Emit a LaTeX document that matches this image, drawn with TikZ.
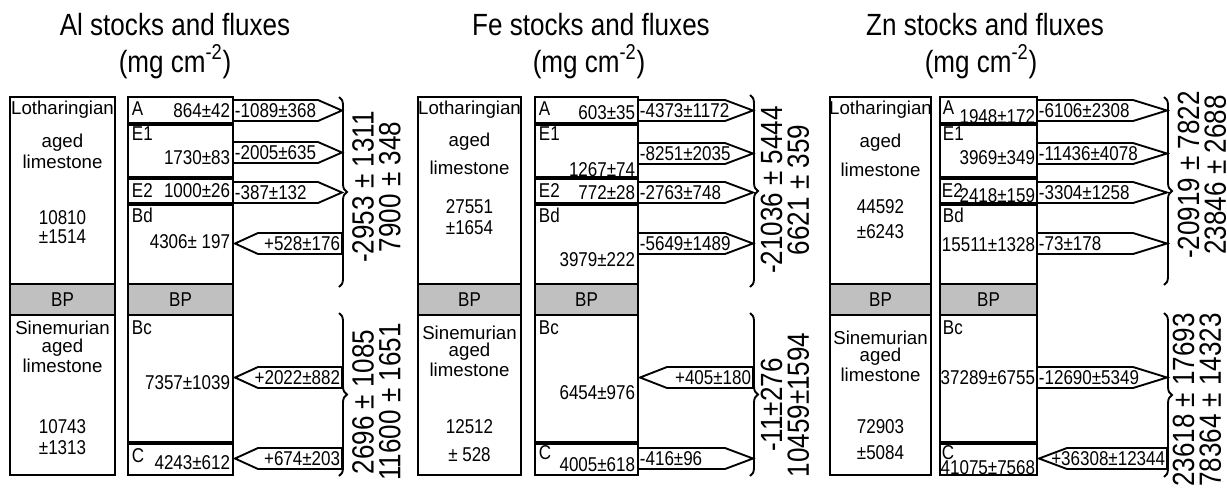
\documentclass[tikz,border=0pt]{standalone}
\usepackage{fontspec}
\setmainfont{Liberation Sans}
\newfontfamily\slimfont{Liberation Sans}[FakeStretch=0.85]
\usetikzlibrary{decorations.pathreplacing}
\definecolor{bpgray}{RGB}{192,192,192}

\begin{document}
\begin{tikzpicture}[x=0.75pt, y=-0.75pt, line width=1.4pt,
  ttl/.style={font=\slimfont\fontsize{23}{23}\selectfont, anchor=base},
  tot/.style={font=\slimfont\fontsize{23}{20}\selectfont, rotate=90, align=center},
  rock/.style={font=\fontsize{14}{14}\selectfont, inner sep=0pt},
  num/.style={font=\slimfont\fontsize{15}{15}\selectfont, inner sep=0pt},
  val/.style={num, anchor=east},
  lyr/.style={num, anchor=west},
  fluxo/.style={num, anchor=west},
  fluxi/.style={num, anchor=east},
  bp/.style={draw, fill=bpgray},
  brc/.style={decorate, decoration={brace, amplitude=6pt}}]
  \useasboundingbox (0,0) rectangle (1227,501);

  % Al stocks and fluxes
  \node[ttl] (alT) at (175,35) {Al stocks and fluxes};
  \node[ttl] (alU) at (175,72) {(mg cm\textsuperscript{-2})};
  \draw (10,97) rectangle (115,284);
  \draw[bp] (10,284) rectangle (115,315);
  \draw (10,315) rectangle (115,475);
  \node[rock] (alL1) at (62.5,110) {Lotharingian};
  \node[rock] (alL2) at (62.5,143) {aged};
  \node[rock] (alL3) at (62.5,162) {limestone};
  \node[num] (alL4) at (62.5,218) {10810};
  \node[num] (alL5) at (62.5,237) {±1514};
  \node[num] (alBP1) at (62.5,299.5) {BP};
  \node[rock] (alS1) at (62.5,328) {Sinemurian};
  \node[rock] (alS2) at (62.5,348) {aged};
  \node[rock] (alS3) at (62.5,366) {limestone};
  \node[num] (alS4) at (62.5,427) {10743};
  \node[num] (alS5) at (62.5,448) {±1313};
  % Al horizons
  \draw (128,97) rectangle (233,123);
  \draw (128,125) rectangle (233,177);
  \draw (128,179) rectangle (233,203);
  \draw (128,205) rectangle (233,284);
  \draw[bp] (128,284) rectangle (233,315);
  \draw (128,315) rectangle (233,442);
  \draw (128,444) rectangle (233,475);
  \node[lyr] (alA) at (131,109) {A};
  \node[val] (alAv) at (231,111) {864±42};
  \node[lyr] (alE1) at (131,134) {E1};
  \node[val] (alE1v) at (231,158) {1730±83};
  \node[lyr] (alE2) at (131,191) {E2};
  \node[val] (alE2v) at (231,191) {1000±26};
  \node[lyr] (alBd) at (131,215) {Bd};
  \node[val] (alBdv) at (231,242) {4306± 197};
  \node[num] (alBP2) at (180.5,299.5) {BP};
  \node[lyr] (alBc) at (131,328) {Bc};
  \node[val] (alBcv) at (231,383) {7357±1039};
  \node[lyr] (alC) at (131,456) {C};
  \node[val] (alCv) at (231,463) {4243±612};
  % Al fluxes
  \draw (233,100) -- (318,100) -- (342,110.5) -- (318,121) -- (233,121);
  \node[fluxo] (alAf) at (234,110.5) {-1089±368};
  \draw (233,142) -- (318,142) -- (342,152.5) -- (318,163) -- (233,163);
  \node[fluxo] (alE1f) at (234,152.5) {-2005±635};
  \draw (233,182) -- (318,182) -- (342,192.5) -- (318,203) -- (233,203);
  \node[fluxo] (alE2f) at (234,192.5) {-387±132};
  \draw (342,233) -- (258,233) -- (235,243.5) -- (258,254) -- (342,254) -- cycle;
  \node[fluxi] (alBdf) at (341,243.5) {+528±176};
  \draw (342,367) -- (258,367) -- (235,377.5) -- (258,388) -- (342,388) -- cycle;
  \node[fluxi] (alBcf) at (341,377.5) {+2022±882};
  \draw (342,448) -- (258,448) -- (235,458.5) -- (258,469) -- (342,469) -- cycle;
  \node[fluxi] (alCf) at (341,458.5) {+674±203};
  \draw[brc] (339,97) -- (339,287);
  \draw[brc] (339,313) -- (339,476);
  \node[tot] (alTu) at (376.5,187) {-2953 ± 1311\\7900 ± 348};
  \node[tot] (alTl) at (376.5,402) {2696 ± 1085\\11600 ± 1651};

  % Fe stocks and fluxes
  \node[ttl] (feT) at (591,35) {Fe stocks and fluxes};
  \node[ttl] (feU) at (589,72) {(mg cm\textsuperscript{-2})};
  \draw (418,97) rectangle (521,284);
  \draw[bp] (418,284) rectangle (521,315);
  \draw (418,315) rectangle (521,475);
  \node[rock] (feL1) at (469.5,110) {Lotharingian};
  \node[rock] (feL2) at (469.5,142) {aged};
  \node[rock] (feL3) at (469.5,168) {limestone};
  \node[num] (feL4) at (469.5,207) {27551};
  \node[num] (feL5) at (469.5,228) {±1654};
  \node[num] (feBP1) at (469.5,299.5) {BP};
  \node[rock] (feS1) at (469.5,333) {Sinemurian};
  \node[rock] (feS2) at (469.5,352) {aged};
  \node[rock] (feS3) at (469.5,370) {limestone};
  \node[num] (feS4) at (469.5,427) {12512};
  \node[num] (feS5) at (469.5,455) {± 528};
  % Fe horizons
  \draw (535,97) rectangle (638,123);
  \draw (535,125) rectangle (638,177);
  \draw (535,179) rectangle (638,203);
  \draw (535,205) rectangle (638,284);
  \draw[bp] (535,284) rectangle (638,315);
  \draw (535,315) rectangle (638,442);
  \draw (535,444) rectangle (638,475);
  \node[lyr] (feA) at (538,109) {A};
  \node[val] (feAv) at (636,113) {603±35};
  \node[lyr] (feE1) at (538,134) {E1};
  \node[val] (feE1v) at (636,170) {1267±74};
  \node[lyr] (feE2) at (538,191) {E2};
  \node[val] (feE2v) at (636,193) {772±28};
  \node[lyr] (feBd) at (538,215) {Bd};
  \node[val] (feBdv) at (636,260) {3979±222};
  \node[num] (feBP2) at (586.5,299.5) {BP};
  \node[lyr] (feBc) at (538,328) {Bc};
  \node[val] (feBcv) at (636,393) {6454±976};
  \node[lyr] (feC) at (538,453) {C};
  \node[val] (feCv) at (636,465) {4005±618};
  % Fe fluxes
  \draw (638,100) -- (725,100) -- (753,110.5) -- (725,121) -- (638,121);
  \node[fluxo] (feAf) at (639,110.5) {-4373±1172};
  \draw (638,143) -- (725,143) -- (753,153.5) -- (725,164) -- (638,164);
  \node[fluxo] (feE1f) at (639,153.5) {-8251±2035};
  \draw (638,182) -- (725,182) -- (753,192.5) -- (725,203) -- (638,203);
  \node[fluxo] (feE2f) at (639,192.5) {-2763±748};
  \draw (638,233) -- (725,233) -- (753,243.5) -- (725,254) -- (638,254);
  \node[fluxo] (feBdf) at (639,243.5) {-5649±1489};
  \draw (753,367) -- (667,367) -- (640,377.5) -- (667,388) -- (753,388) -- cycle;
  \node[fluxi] (feBcf) at (752,377.5) {+405±180};
  \draw (638,448) -- (725,448) -- (753,458.5) -- (725,469) -- (638,469);
  \node[fluxo] (feCf) at (639,458.5) {-416±96};
  \draw[brc] (750,95) -- (750,287);
  \draw[brc] (750,313) -- (750,476);
  \node[tot] (feTu) at (785,190) {-21036 ± 5444\\6621 ± 359};
  \node[tot] (feTl) at (785,405) {-11±276\\10459±1594};

  % Zn stocks and fluxes
  \node[ttl] (znT) at (985,35) {Zn stocks and fluxes};
  \node[ttl] (znU) at (981,72) {(mg cm\textsuperscript{-2})};
  \draw (830,97) rectangle (931,284);
  \draw[bp] (830,284) rectangle (931,315);
  \draw (830,315) rectangle (931,475);
  \node[rock] (znL1) at (880.5,110) {Lotharingian};
  \node[rock] (znL2) at (880.5,143) {aged};
  \node[rock] (znL3) at (880.5,170) {limestone};
  \node[num] (znL4) at (880.5,207) {44592};
  \node[num] (znL5) at (880.5,232) {±6243};
  \node[num] (znBP1) at (880.5,299.5) {BP};
  \node[rock] (znS1) at (880.5,338) {Sinemurian};
  \node[rock] (znS2) at (880.5,357) {aged};
  \node[rock] (znS3) at (880.5,375) {limestone};
  \node[num] (znS4) at (880.5,427) {72903};
  \node[num] (znS5) at (880.5,453) {±5084};
  % Zn horizons
  \draw (940,97) rectangle (1037,123);
  \draw (940,125) rectangle (1037,177);
  \draw (940,179) rectangle (1037,203);
  \draw (940,205) rectangle (1037,284);
  \draw[bp] (940,284) rectangle (1037,315);
  \draw (940,315) rectangle (1037,442);
  \draw (940,444) rectangle (1037,475);
  \node[lyr] (znA) at (942,108) {A};
  \node[val] (znAv) at (1036,117) {1948±172};
  \node[lyr] (znE1) at (942,134) {E1};
  \node[val] (znE1v) at (1036,158) {3969±349};
  \node[lyr] (znE2) at (941,191) {E2};
  \node[val] (znE2v) at (1036,196) {2418±159};
  \node[lyr] (znBd) at (942,215) {Bd};
  \node[val] (znBdv) at (1036,245) {15511±1328};
  \node[num] (znBP2) at (988.5,299.5) {BP};
  \node[lyr] (znBc) at (942,328) {Bc};
  \node[val] (znBcv) at (1036,378) {37289±6755};
  \node[lyr] (znC) at (941,453) {C};
  \node[val] (znCv) at (1036,468) {41075±7568};
  % Zn fluxes
  \draw (1037,100) -- (1133,100) -- (1167,110.5) -- (1133,121) -- (1037,121);
  \node[fluxo] (znAf) at (1038,110.5) {-6106±2308};
  \draw (1037,143) -- (1133,143) -- (1167,153.5) -- (1133,164) -- (1037,164);
  \node[fluxo] (znE1f) at (1038,153.5) {-11436±4078};
  \draw (1037,182) -- (1133,182) -- (1167,192.5) -- (1133,203) -- (1037,203);
  \node[fluxo] (znE2f) at (1038,192.5) {-3304±1258};
  \draw (1037,233) -- (1133,233) -- (1167,243.5) -- (1133,254) -- (1037,254);
  \node[fluxo] (znBdf) at (1038,243.5) {-73±178};
  \draw (1037,367) -- (1133,367) -- (1167,377.5) -- (1133,388) -- (1037,388);
  \node[fluxo] (znBcf) at (1038,377.5) {-12690±5349};
  \draw (1167,448) -- (1067,448) -- (1039,458.5) -- (1067,469) -- (1167,469) -- cycle;
  \node[fluxi] (znCf) at (1166,458.5) {+36308±12344};
  \draw[brc] (1164,97) -- (1164,285);
  \draw[brc] (1164,313) -- (1164,477);
  \node[tot] (znTu) at (1202,175) {-20919 ± 7822\\23846 ± 2688};
  \node[tot] (znTl) at (1197,400) {23618 ± 17693\\78364 ± 14323};
\end{tikzpicture}
\end{document}
